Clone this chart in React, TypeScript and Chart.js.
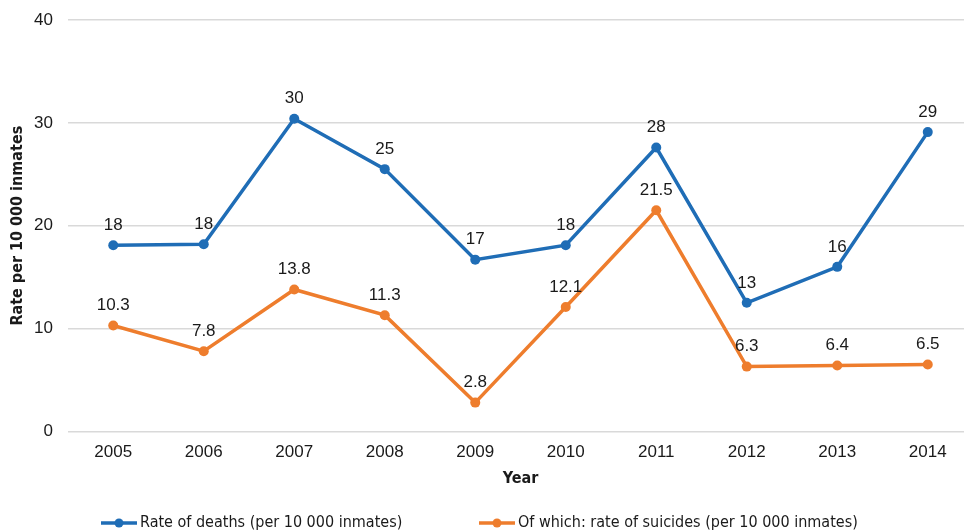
import React, { useEffect, useRef } from 'react';
import { Chart, registerables } from 'chart.js';

Chart.register(...registerables);

const years = ['2005', '2006', '2007', '2008', '2009', '2010', '2011', '2012', '2013', '2014'];
const deathRates = [18.1, 18.2, 30.4, 25.5, 16.7, 18.1, 27.6, 12.5, 16.0, 29.1];
const deathLabels = ['18', '18', '30', '25', '17', '18', '28', '13', '16', '29'];
const suicideRates = [10.3, 7.8, 13.8, 11.3, 2.8, 12.1, 21.5, 6.3, 6.4, 6.5];
const suicideLabels = ['10.3', '7.8', '13.8', '11.3', '2.8', '12.1', '21.5', '6.3', '6.4', '6.5'];
const yTickValues = [0, 10, 20, 30, 40];
const seriesNames = ['Rate of deaths (per 10 000 inmates)', 'Of which: rate of suicides (per 10 000 inmates)'];

const BLUE = '#1f6db6';
const ORANGE = '#ee7d2d';
const SANS = '"Liberation Sans", Arial, sans-serif';
const NARROW = '"DejaVu Sans Condensed", "Liberation Sans", sans-serif';

const valueLabelPlugin = {
  id: 'valueLabels',
  afterDatasetsDraw(chart: any) {
    const ctx = chart.ctx;
    ctx.save();
    ctx.font = `17px ${SANS}`;
    ctx.fillStyle = '#1a1a1a';
    ctx.textAlign = 'center';
    ctx.textBaseline = 'middle';
    chart.data.datasets.forEach((ds: any, di: number) => {
      const meta = chart.getDatasetMeta(di);
      meta.data.forEach((pt: any, i: number) => {
        ctx.fillText(ds.valueLabels[i], pt.x, pt.y - 20);
      });
    });
    ctx.restore();
  },
};

const legendPlugin = {
  id: 'customLegend',
  afterDraw(chart: any) {
    const ctx = chart.ctx;
    const y = 523;
    const items = [
      { x0: 101, x1: 137, text: 140 },
      { x0: 479, x1: 515, text: 518 },
    ];
    ctx.save();
    chart.data.datasets.forEach((ds: any, di: number) => {
      const it = items[di];
      ctx.strokeStyle = ds.borderColor;
      ctx.lineWidth = 3.5;
      ctx.beginPath();
      ctx.moveTo(it.x0, y);
      ctx.lineTo(it.x1, y);
      ctx.stroke();
      ctx.fillStyle = ds.borderColor;
      ctx.beginPath();
      ctx.arc((it.x0 + it.x1) / 2, y, 4.5, 0, Math.PI * 2);
      ctx.fill();
      ctx.fillStyle = '#1a1a1a';
      ctx.font = `16px ${NARROW}`;
      ctx.textAlign = 'left';
      ctx.textBaseline = 'middle';
      ctx.fillText(ds.label, it.text, y);
    });
    ctx.restore();
  },
};

export default function App() {
  const ref = useRef<HTMLCanvasElement>(null);
  useEffect(() => {
    const chart = new Chart(ref.current!, {
      type: 'line',
      data: {
        labels: years,
        datasets: [
          {
            label: seriesNames[0],
            data: deathRates,
            borderColor: BLUE,
            backgroundColor: BLUE,
            borderWidth: 3.5,
            pointRadius: 5,
            pointBackgroundColor: BLUE,
            pointBorderWidth: 0,
            tension: 0,
            valueLabels: deathLabels,
          } as any,
          {
            label: seriesNames[1],
            data: suicideRates,
            borderColor: ORANGE,
            backgroundColor: ORANGE,
            borderWidth: 3.5,
            pointRadius: 5,
            pointBackgroundColor: ORANGE,
            pointBorderWidth: 0,
            tension: 0,
            valueLabels: suicideLabels,
          } as any,
        ],
      },
      options: {
        responsive: false,
        animation: false,
        layout: { padding: { top: 20, right: 9, bottom: 53, left: 0 } },
        plugins: { legend: { display: false }, tooltip: { enabled: false } },
        scales: {
          x: {
            offset: true,
            grid: { display: false, drawTicks: false },
            border: { display: false },
            ticks: { font: { size: 17, family: SANS }, color: '#1a1a1a', padding: 11, maxRotation: 0 },
            title: {
              display: true,
              text: 'Year',
              font: { size: 16, weight: 'bold', family: NARROW },
              color: '#1a1a1a',
              padding: { top: -5, bottom: 4 },
            },
          },
          y: {
            min: 0,
            max: 40,
            afterBuildTicks: (s: any) => {
              s.ticks = yTickValues.map((v) => ({ value: v }));
            },
            afterFit: (s: any) => {
              s.width = 68;
              s.paddingTop = 0;
              s.paddingBottom = 0;
            },
            grid: { color: '#d9d9d9', lineWidth: 1.5, drawTicks: false },
            border: { display: false },
            ticks: { font: { size: 17, family: SANS }, color: '#1a1a1a', padding: 15 },
            title: {
              display: true,
              text: 'Rate per 10 000 inmates',
              font: { size: 16, weight: 'bold', family: NARROW },
              color: '#1a1a1a',
              padding: { top: 8, bottom: 0 },
            },
          },
        },
      },
      plugins: [valueLabelPlugin, legendPlugin],
    });
    return () => chart.destroy();
  }, []);
  return (
    <div style={{ position: 'absolute', left: 0, top: 0, width: 964, height: 532, overflow: 'hidden', background: '#fff' }}>
      <canvas ref={ref} width={982} height={545} style={{ display: 'block' }} />
    </div>
  );
}
